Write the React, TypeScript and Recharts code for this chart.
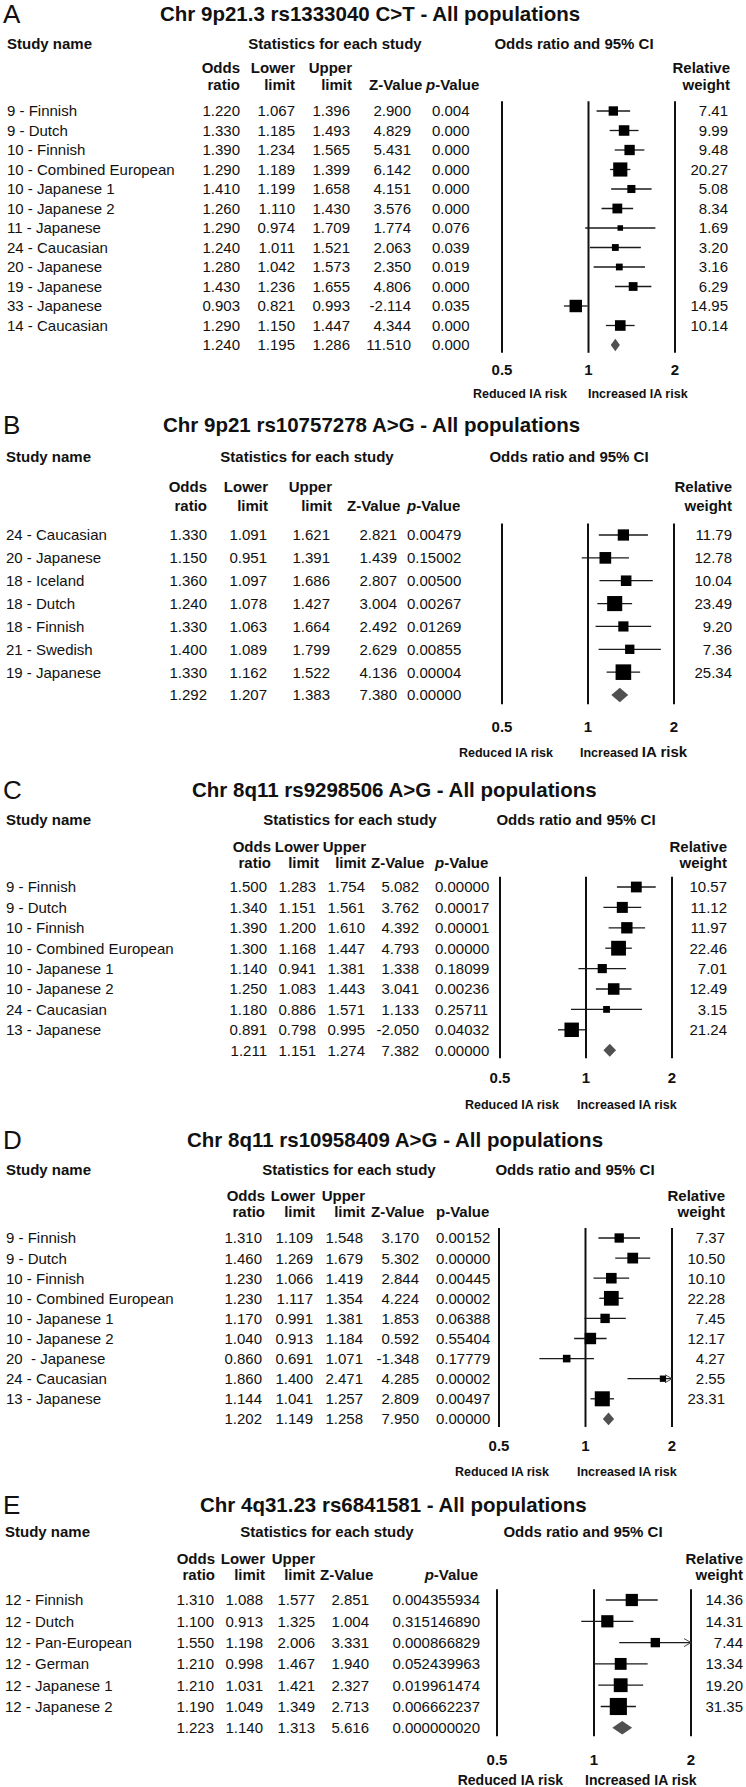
import React from 'react';
import { ScatterChart, Scatter, XAxis, YAxis, ErrorBar, ReferenceLine, ReferenceArea } from 'recharts';

const FONT = "'Liberation Sans', Arial, Helvetica, sans-serif";
const X_MIN = 0.5;
const X_MAX = 2;
const X_TICKS = [0.5, 1, 2];
const X_AXIS_H = 30;

// A - rs1333040
const A_STUDIES = ['9 - Finnish', '9 - Dutch', '10 - Finnish', '10 - Combined European', '10 - Japanese 1', '10 - Japanese 2', '11 - Japanese', '24 - Caucasian', '20 - Japanese', '19 - Japanese', '33 - Japanese', '14 - Caucasian'];
const A_OR = [1.22, 1.33, 1.39, 1.29, 1.41, 1.26, 1.29, 1.24, 1.28, 1.43, 0.903, 1.29];
const A_LOWER = [1.067, 1.185, 1.234, 1.189, 1.199, 1.11, 0.974, 1.011, 1.042, 1.236, 0.821, 1.15];
const A_UPPER = [1.396, 1.493, 1.565, 1.399, 1.658, 1.43, 1.709, 1.521, 1.573, 1.655, 0.993, 1.447];
const A_Z = [2.9, 4.829, 5.431, 6.142, 4.151, 3.576, 1.774, 2.063, 2.35, 4.806, -2.114, 4.344];
const A_P = [0.004, 0.0, 0.0, 0.0, 0.0, 0.0, 0.076, 0.039, 0.019, 0.0, 0.035, 0.0];
const A_WEIGHT = [7.41, 9.99, 9.48, 20.27, 5.08, 8.34, 1.69, 3.2, 3.16, 6.29, 14.95, 10.14];
const A_POOLED = [1.24, 1.195, 1.286, 11.51, 0.0];

// B - rs10757278
const B_STUDIES = ['24 - Caucasian', '20 - Japanese', '18 - Iceland', '18 - Dutch', '18 - Finnish', '21 - Swedish', '19 - Japanese'];
const B_OR = [1.33, 1.15, 1.36, 1.24, 1.33, 1.4, 1.33];
const B_LOWER = [1.091, 0.951, 1.097, 1.078, 1.063, 1.089, 1.162];
const B_UPPER = [1.621, 1.391, 1.686, 1.427, 1.664, 1.799, 1.522];
const B_Z = [2.821, 1.439, 2.807, 3.004, 2.492, 2.629, 4.136];
const B_P = [0.00479, 0.15002, 0.005, 0.00267, 0.01269, 0.00855, 0.00004];
const B_WEIGHT = [11.79, 12.78, 10.04, 23.49, 9.2, 7.36, 25.34];
const B_POOLED = [1.292, 1.207, 1.383, 7.38, 0.0];

// C - rs9298506
const C_STUDIES = ['9 - Finnish', '9 - Dutch', '10 - Finnish', '10 - Combined European', '10 - Japanese 1', '10 - Japanese 2', '24 - Caucasian', '13 - Japanese'];
const C_OR = [1.5, 1.34, 1.39, 1.3, 1.14, 1.25, 1.18, 0.891];
const C_LOWER = [1.283, 1.151, 1.2, 1.168, 0.941, 1.083, 0.886, 0.798];
const C_UPPER = [1.754, 1.561, 1.61, 1.447, 1.381, 1.443, 1.571, 0.995];
const C_Z = [5.082, 3.762, 4.392, 4.793, 1.338, 3.041, 1.133, -2.05];
const C_P = [0.0, 0.00017, 0.00001, 0.0, 0.18099, 0.00236, 0.25711, 0.04032];
const C_WEIGHT = [10.57, 11.12, 11.97, 22.46, 7.01, 12.49, 3.15, 21.24];
const C_POOLED = [1.211, 1.151, 1.274, 7.382, 0.0];

// D - rs10958409
const D_STUDIES = ['9 - Finnish', '9 - Dutch', '10 - Finnish', '10 - Combined European', '10 - Japanese 1', '10 - Japanese 2', '20  - Japanese', '24 - Caucasian', '13 - Japanese'];
const D_OR = [1.31, 1.46, 1.23, 1.23, 1.17, 1.04, 0.86, 1.86, 1.144];
const D_LOWER = [1.109, 1.269, 1.066, 1.117, 0.991, 0.913, 0.691, 1.4, 1.041];
const D_UPPER = [1.548, 1.679, 1.419, 1.354, 1.381, 1.184, 1.071, 2.471, 1.257];
const D_Z = [3.17, 5.302, 2.844, 4.224, 1.853, 0.592, -1.348, 4.285, 2.809];
const D_P = [0.00152, 0.0, 0.00445, 0.00002, 0.06388, 0.55404, 0.17779, 0.00002, 0.00497];
const D_WEIGHT = [7.37, 10.5, 10.1, 22.28, 7.45, 12.17, 4.27, 2.55, 23.31];
const D_POOLED = [1.202, 1.149, 1.258, 7.95, 0.0];

// E - rs6841581
const E_STUDIES = ['12 - Finnish', '12 - Dutch', '12 - Pan-European', '12 - German', '12 - Japanese 1', '12 - Japanese 2'];
const E_OR = [1.31, 1.1, 1.55, 1.21, 1.21, 1.19];
const E_LOWER = [1.088, 0.913, 1.198, 0.998, 1.031, 1.049];
const E_UPPER = [1.577, 1.325, 2.006, 1.467, 1.421, 1.349];
const E_Z = [2.851, 1.004, 3.331, 1.94, 2.327, 2.713];
const E_P = [0.004355934, 0.31514689, 0.000866829, 0.052439963, 0.019961474, 0.006662237];
const E_WEIGHT = [14.36, 14.31, 7.44, 13.34, 19.2, 31.35];
const E_POOLED = [1.223, 1.14, 1.313, 5.616, 0.00000002];

type Cols = { or: number; lo: number; up: number; z: number; p: number; w: number };

type PanelCfg = {
  letter: string;
  title: string;
  studies: string[];
  or: number[];
  lower: number[];
  upper: number[];
  z: number[];
  p: number[];
  weight: number[];
  pooled: number[];
  pDigits: number;
  pAnchor: 'start' | 'end';
  pItalic: boolean;
  top: number;
  height: number;
  titleX: number;
  titleY: number;
  headY: number;
  h1Y: number;
  h2Y: number;
  nameX: number;
  statsX: number;
  ciX: number;
  hdr: Cols;
  zHdrAnchor: 'start' | 'end';
  pHdrAnchor: 'start' | 'end';
  col: Cols;
  row0: number;
  step: number;
  x05: number;
  x2: number;
  tickDy: number;
  footY: number;
  reducedEnd: number;
  increasedStart: number;
  footSize: number;
  riskSize: number;
};

const PANELS: PanelCfg[] = [
  {
    letter: 'A', title: 'Chr 9p21.3 rs1333040 C>T - All populations',
    studies: A_STUDIES, or: A_OR, lower: A_LOWER, upper: A_UPPER, z: A_Z, p: A_P, weight: A_WEIGHT, pooled: A_POOLED,
    pDigits: 3, pAnchor: 'start', pItalic: true,
    top: 0, height: 404, titleX: 160, titleY: 14, headY: 44, h1Y: 68, h2Y: 85,
    nameX: 7, statsX: 335, ciX: 574,
    hdr: { or: 240, lo: 295, up: 352, z: 369, p: 426, w: 730 }, zHdrAnchor: 'start', pHdrAnchor: 'start',
    col: { or: 240, lo: 295, up: 350, z: 411, p: 432, w: 728 },
    row0: 111, step: 19.5, x05: 502, x2: 675,
    tickDy: 17, footY: 393, reducedEnd: 567, increasedStart: 588, footSize: 12.5, riskSize: 12.5,
  },
  {
    letter: 'B', title: 'Chr 9p21 rs10757278 A>G - All populations',
    studies: B_STUDIES, or: B_OR, lower: B_LOWER, upper: B_UPPER, z: B_Z, p: B_P, weight: B_WEIGHT, pooled: B_POOLED,
    pDigits: 5, pAnchor: 'start', pItalic: true,
    top: 404, height: 364, titleX: 163, titleY: 425, headY: 457, h1Y: 487, h2Y: 506,
    nameX: 6, statsX: 307, ciX: 569,
    hdr: { or: 207, lo: 268, up: 332, z: 347, p: 407, w: 732 }, zHdrAnchor: 'start', pHdrAnchor: 'start',
    col: { or: 207, lo: 267, up: 330, z: 397, p: 407, w: 732 },
    row0: 535, step: 22.86, x05: 502, x2: 674,
    tickDy: 22, footY: 752, reducedEnd: 553, increasedStart: 580, footSize: 12.5, riskSize: 15,
  },
  {
    letter: 'C', title: 'Chr 8q11 rs9298506 A>G - All populations',
    studies: C_STUDIES, or: C_OR, lower: C_LOWER, upper: C_UPPER, z: C_Z, p: C_P, weight: C_WEIGHT, pooled: C_POOLED,
    pDigits: 5, pAnchor: 'start', pItalic: true,
    top: 768, height: 356, titleX: 192, titleY: 790, headY: 820, h1Y: 847, h2Y: 863,
    nameX: 6, statsX: 350, ciX: 576,
    hdr: { or: 271, lo: 319, up: 366, z: 371, p: 435, w: 727 }, zHdrAnchor: 'start', pHdrAnchor: 'start',
    col: { or: 267, lo: 316, up: 365, z: 419, p: 435, w: 727 },
    row0: 887, step: 20.4, x05: 500, x2: 672,
    tickDy: 19, footY: 1104, reducedEnd: 559, increasedStart: 577, footSize: 12.5, riskSize: 12.5,
  },
  {
    letter: 'D', title: 'Chr 8q11 rs10958409 A>G - All populations',
    studies: D_STUDIES, or: D_OR, lower: D_LOWER, upper: D_UPPER, z: D_Z, p: D_P, weight: D_WEIGHT, pooled: D_POOLED,
    pDigits: 5, pAnchor: 'start', pItalic: false,
    top: 1124, height: 366, titleX: 187, titleY: 1140, headY: 1170, h1Y: 1196, h2Y: 1212,
    nameX: 6, statsX: 349, ciX: 575,
    hdr: { or: 265, lo: 315, up: 365, z: 371, p: 436, w: 725 }, zHdrAnchor: 'start', pHdrAnchor: 'start',
    col: { or: 262, lo: 313, up: 363, z: 419, p: 436, w: 725 },
    row0: 1238, step: 20.1, x05: 499, x2: 672,
    tickDy: 19, footY: 1471, reducedEnd: 549, increasedStart: 577, footSize: 12.5, riskSize: 12.5,
  },
  {
    letter: 'E', title: 'Chr 4q31.23 rs6841581 - All populations',
    studies: E_STUDIES, or: E_OR, lower: E_LOWER, upper: E_UPPER, z: E_Z, p: E_P, weight: E_WEIGHT, pooled: E_POOLED,
    pDigits: 9, pAnchor: 'end', pItalic: true,
    top: 1490, height: 297, titleX: 200, titleY: 1505, headY: 1532, h1Y: 1559, h2Y: 1575,
    nameX: 5, statsX: 327, ciX: 583,
    hdr: { or: 215, lo: 265, up: 315, z: 320, p: 478, w: 743 }, zHdrAnchor: 'start', pHdrAnchor: 'end',
    col: { or: 214, lo: 263, up: 315, z: 369, p: 480, w: 743 },
    row0: 1600, step: 21.3, x05: 497, x2: 691,
    tickDy: 23, footY: 1780, reducedEnd: 563, increasedStart: 585, footSize: 14, riskSize: 14,
  },
];

const Square = (props: any) => {
  const { cx, cy, payload } = props;
  const s = 2 + 2.7 * Math.sqrt(payload.w);
  return <rect x={cx - s / 2} y={cy - s / 2} width={s} height={s} fill="#000" />;
};

const Chevron = (props: any) => {
  const { cx, cy } = props;
  return <polyline points={`${cx - 7},${cy - 4} ${cx},${cy} ${cx - 7},${cy + 4}`} fill="none" stroke="#444" strokeWidth={1} />;
};

const Diamond = (props: any) => {
  const { x, y, width, height } = props;
  const mx = x + width / 2;
  const my = y + height / 2;
  return <polygon points={`${x},${my} ${mx},${y} ${x + width},${my} ${mx},${y + height}`} fill="#505050" />;
};

const PanelHeader = ({ cfg }: { cfg: PanelCfg }) => {
  const t = cfg.top;
  const bold = { fontWeight: 'bold' as const, fontSize: 15 };
  return (
    <svg width={746} height={cfg.height} style={{ position: 'absolute', left: 0, top: 0, pointerEvents: 'none' }} fontFamily={FONT} fill="#111">
      <text x={3} y={cfg.titleY - t} dy="0.36em" fontSize={26}>{cfg.letter}</text>
      <text x={cfg.titleX} y={cfg.titleY - t} dy="0.36em" fontSize={20.5} fontWeight="bold">{cfg.title}</text>
      <text x={cfg.nameX} y={cfg.headY - t} dy="0.36em" {...bold}>Study name</text>
      <text x={cfg.statsX} y={cfg.headY - t} dy="0.36em" textAnchor="middle" {...bold}>Statistics for each study</text>
      <text x={cfg.ciX} y={cfg.headY - t} dy="0.36em" textAnchor="middle" {...bold}>Odds ratio and 95% CI</text>
      <text x={cfg.hdr.or} y={cfg.h1Y - t} dy="0.36em" textAnchor="end" {...bold}>Odds</text>
      <text x={cfg.hdr.or} y={cfg.h2Y - t} dy="0.36em" textAnchor="end" {...bold}>ratio</text>
      <text x={cfg.hdr.lo} y={cfg.h1Y - t} dy="0.36em" textAnchor="end" {...bold}>Lower</text>
      <text x={cfg.hdr.lo} y={cfg.h2Y - t} dy="0.36em" textAnchor="end" {...bold}>limit</text>
      <text x={cfg.hdr.up} y={cfg.h1Y - t} dy="0.36em" textAnchor="end" {...bold}>Upper</text>
      <text x={cfg.hdr.up} y={cfg.h2Y - t} dy="0.36em" textAnchor="end" {...bold}>limit</text>
      <text x={cfg.hdr.z} y={cfg.h2Y - t} dy="0.36em" textAnchor={cfg.zHdrAnchor} {...bold}>Z-Value</text>
      <text x={cfg.hdr.p} y={cfg.h2Y - t} dy="0.36em" textAnchor={cfg.pHdrAnchor} {...bold}>
        <tspan fontStyle={cfg.pItalic ? 'italic' : 'normal'}>p</tspan>-Value
      </text>
      <text x={cfg.hdr.w} y={cfg.h1Y - t} dy="0.36em" textAnchor="end" {...bold}>Relative</text>
      <text x={cfg.hdr.w} y={cfg.h2Y - t} dy="0.36em" textAnchor="end" {...bold}>weight</text>
      <text x={cfg.reducedEnd} y={cfg.footY - t} dy="0.36em" textAnchor="end" fontWeight="bold" fontSize={cfg.footSize}>Reduced IA risk</text>
      <text x={cfg.increasedStart} y={cfg.footY - t} dy="0.36em" fontWeight="bold" fontSize={cfg.footSize}>
        Increased <tspan fontSize={cfg.riskSize}>IA risk</tspan>
      </text>
    </svg>
  );
};

const ForestPanel = ({ cfg }: { cfg: PanelCfg }) => {
  const n = cfg.studies.length;
  const points = cfg.studies.map((_, i) => ({
    x: cfg.or[i],
    row: i,
    w: cfg.weight[i],
    err: [cfg.or[i] - cfg.lower[i], Math.min(cfg.upper[i], X_MAX) - cfg.or[i]],
  }));
  const arrows = cfg.studies
    .map((_, i) => i)
    .filter((i) => cfg.upper[i] > X_MAX)
    .map((i) => ({ x: X_MAX, row: i }));
  const rowTicks = Array.from({ length: n + 1 }, (_, i) => i);

  const plotTop = cfg.row0 - cfg.top - 0.5 * cfg.step;
  const plotH = (n + 0.9) * cfg.step;
  const marginBottom = cfg.height - plotTop - plotH - X_AXIS_H;

  const renderRow = (props: any) => {
    const i = Math.round(props.payload.value);
    const y = props.y;
    const pooled = i === n;
    const vals = pooled ? cfg.pooled : [cfg.or[i], cfg.lower[i], cfg.upper[i], cfg.z[i], cfg.p[i]];
    return (
      <g fontFamily={FONT} fontSize={15} fill="#111">
        {!pooled && (
          <text x={cfg.nameX} y={y} dy="0.36em" style={{ whiteSpace: 'pre' }}>{cfg.studies[i]}</text>
        )}
        <text x={cfg.col.or} y={y} dy="0.36em" textAnchor="end">{vals[0].toFixed(3)}</text>
        <text x={cfg.col.lo} y={y} dy="0.36em" textAnchor="end">{vals[1].toFixed(3)}</text>
        <text x={cfg.col.up} y={y} dy="0.36em" textAnchor="end">{vals[2].toFixed(3)}</text>
        <text x={cfg.col.z} y={y} dy="0.36em" textAnchor="end">{vals[3].toFixed(3)}</text>
        <text x={cfg.col.p} y={y} dy="0.36em" textAnchor={cfg.pAnchor}>{vals[4].toFixed(cfg.pDigits)}</text>
        {!pooled && (
          <text x={cfg.col.w} y={y} dy="0.36em" textAnchor="end">{cfg.weight[i].toFixed(2)}</text>
        )}
      </g>
    );
  };

  const renderXTick = (props: any) => (
    <text x={props.x} y={props.y + cfg.tickDy} dy="0.36em" textAnchor="middle" fontFamily={FONT} fontSize={15} fontWeight="bold" fill="#111">
      {props.payload.value}
    </text>
  );

  return (
    <div style={{ position: 'absolute', left: 0, top: cfg.top, width: 746, height: cfg.height }}>
      <ScatterChart
        width={746}
        height={cfg.height}
        margin={{ top: plotTop, right: 746 - cfg.x2, bottom: marginBottom, left: 0 }}
      >
        <XAxis
          type="number"
          dataKey="x"
          scale="log"
          domain={[X_MIN, X_MAX]}
          allowDataOverflow
          ticks={X_TICKS}
          interval={0}
          axisLine={false}
          tickLine={false}
          tickSize={0}
          tickMargin={0}
          height={X_AXIS_H}
          tick={renderXTick}
        />
        <YAxis
          type="number"
          dataKey="row"
          domain={[-0.5, n + 0.4]}
          reversed
          allowDataOverflow
          ticks={rowTicks}
          interval={0}
          axisLine={false}
          tickLine={false}
          width={cfg.x05}
          tick={renderRow}
        />
        {X_TICKS.map((v) => (
          <ReferenceLine key={v} x={v} stroke="#111" strokeWidth={2} ifOverflow="visible" />
        ))}
        <Scatter data={points} shape={Square} isAnimationActive={false}>
          <ErrorBar dataKey="err" direction="x" width={0} stroke="#1a1a1a" strokeWidth={1.3} isAnimationActive={false} />
        </Scatter>
        <Scatter data={arrows} shape={Chevron} isAnimationActive={false} />
        <ReferenceArea
          x1={cfg.pooled[1]}
          x2={cfg.pooled[2]}
          y1={n - 0.32}
          y2={n + 0.32}
          shape={Diamond}
          ifOverflow="visible"
        />
      </ScatterChart>
      <PanelHeader cfg={cfg} />
    </div>
  );
}

export default function App() {
  return (
    <div style={{ position: 'relative', width: 746, height: 1787, background: '#fff', overflow: 'hidden' }}>
      <style>{'body { margin: 0; }'}</style>
      {PANELS.map((cfg) => (
        <ForestPanel key={cfg.letter} cfg={cfg} />
      ))}
    </div>
  );
}
